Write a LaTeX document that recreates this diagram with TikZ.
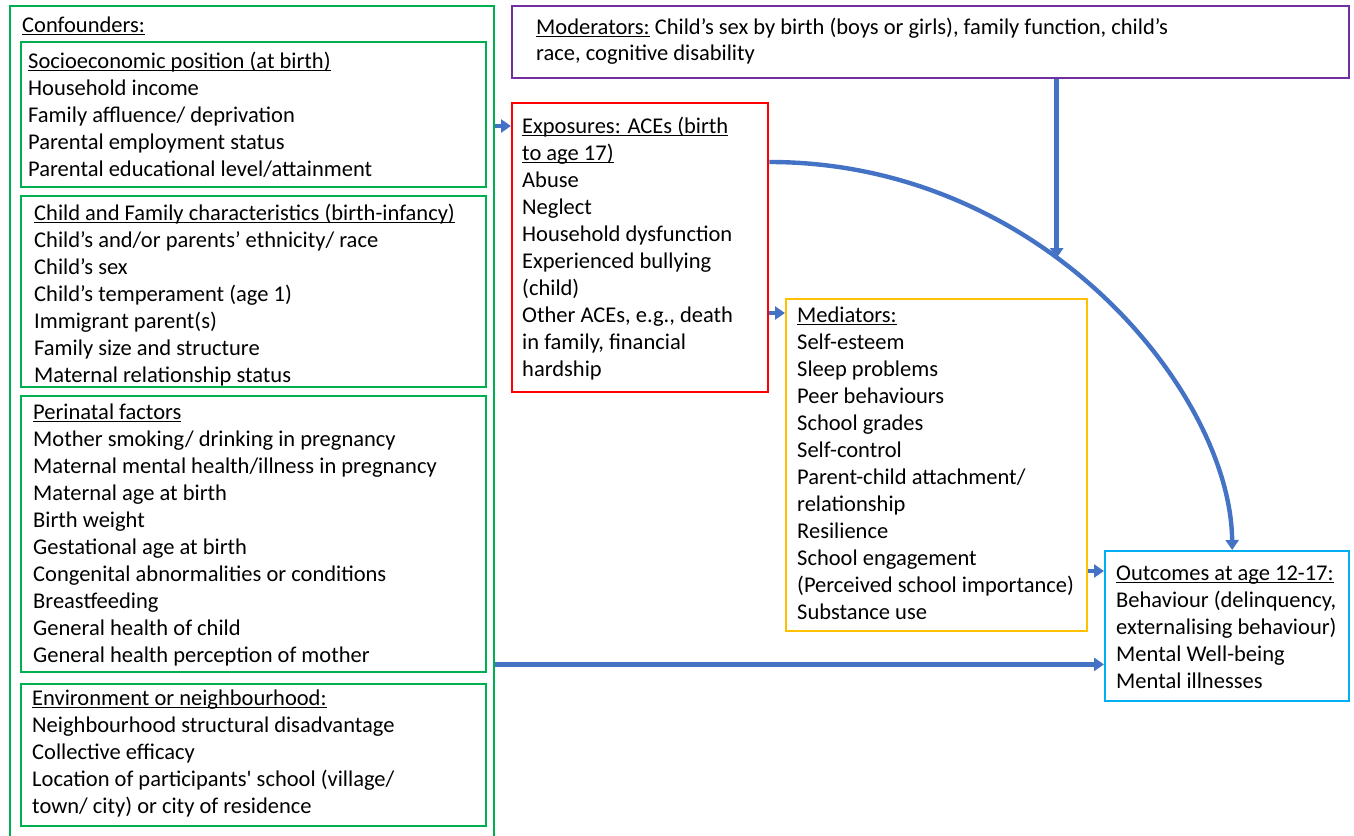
\documentclass[tikz,border=0pt]{standalone}
\usepackage{fontspec}
\setmainfont{Carlito}
\usetikzlibrary{arrows.meta}
\definecolor{cgreen}{HTML}{00B050}
\definecolor{cred}{HTML}{FF0000}
\definecolor{cpurple}{HTML}{7030A0}
\definecolor{cyellow}{HTML}{FFC000}
\definecolor{ccyan}{HTML}{00B0F0}
\definecolor{cblue}{HTML}{4472C4}
\newcommand\undl[1]{\setbox0\hbox{#1}\rlap{\rule[-2.8pt]{\wd0}{1.4pt}}\box0\relax}
\tikzset{
  box/.style={draw=#1, line width=2.4pt, inner sep=0pt, anchor=north west},
  txt/.style={anchor=north west, inner sep=0pt, align=left,
    font=\fontsize{22.5}{27}\selectfont, yshift=18.9pt},
  arr/.style={draw=cblue, line width=4.4pt, -{Triangle[length=10pt,width=13pt]}}
}
\begin{document}
\begin{tikzpicture}[x=1pt,y=-1pt]
\useasboundingbox (0,0) rectangle (1354,835);
\clip (0,0) rectangle (1354,835);
% boxes
\node[box=cgreen, minimum width=484pt, minimum height=850pt] (conf) at (9,5) {};
\node[box=cgreen, minimum width=465pt, minimum height=145pt] (ses) at (20,41) {};
\node[box=cgreen, minimum width=465pt, minimum height=191pt] (cfc) at (20,195) {};
\node[box=cgreen, minimum width=465pt, minimum height=276pt] (peri) at (20,395) {};
\node[box=cgreen, minimum width=465pt, minimum height=142pt] (env) at (20,683) {};
\node[box=cpurple, minimum width=837pt, minimum height=72pt] (mod) at (511,5) {};
\node[box=cred, minimum width=256pt, minimum height=289pt] (exp) at (511,102) {};
\node[box=cyellow, minimum width=301pt, minimum height=332pt] (med) at (785,298) {};
\node[box=ccyan, minimum width=244pt, minimum height=150pt] (out) at (1104,550) {};
% texts
\node[txt] (tconf) at (22,32) {\strut\undl{Confounders:}};
\node[txt] (tses) at (28,68) {\strut\undl{Socioeconomic position (at birth)}\\
Household income\\ Family affluence/ deprivation\\ Parental employment status\\
Parental educational level/attainment};
\node[txt] (tcfc) at (34,220) {\strut\undl{Child and Family characteristics (birth-infancy)}\\
Child’s and/or parents’ ethnicity/ race\\ Child’s sex\\ Child’s temperament (age 1)\\
Immigrant parent(s)\\ Family size and structure\\ Maternal relationship status};
\node[txt] (tperi) at (33,419) {\strut\undl{Perinatal factors}\\
Mother smoking/ drinking in pregnancy\\ Maternal mental health/illness in pregnancy\\
Maternal age at birth\\ Birth weight\\ Gestational age at birth\\
Congenital abnormalities or conditions\\ Breastfeeding\\ General health of child\\
General health perception of mother};
\node[txt] (tenv) at (32,705) {\strut\undl{Environment or neighbourhood:}\\
Neighbourhood structural disadvantage\\ Collective efficacy\\
Location of participants\textquotesingle{} school (village/\\ town/ city) or city of residence};
\node[txt, font=\fontsize{22.5}{26}\selectfont] (tmod) at (536,35) {\strut\undl{Moderators:} Child’s sex by birth (boys or girls), family function, child’s\\
race, cognitive disability};
\node[txt] (texp) at (522,133) {\strut\undl{Exposures: ACEs (birth}\\ \undl{to age 17)}\\
Abuse\\ Neglect\\ Household dysfunction\\ Experienced bullying\\ (child)\\
Other ACEs, e.g., death\\ in family, financial\\ hardship};
\node[txt] (tmed) at (797,322) {\strut\undl{Mediators:}\\ Self-esteem\\ Sleep problems\\
Peer behaviours\\ School grades\\ Self-control\\ Parent-child attachment/\\
relationship\\ Resilience\\ School engagement\\ (Perceived school importance)\\ Substance use};
\node[txt] (tout) at (1116,580) {\strut\undl{Outcomes at age 12-17:}\\
Behaviour (delinquency,\\ externalising behaviour)\\ Mental Well-being\\ Mental illnesses};
% connectors
\coordinate (e1) at ([yshift=-24pt]exp.north west);
\draw[arr] (conf.east |- e1) -- (e1);
\coordinate (m1) at ([yshift=-15pt]med.north west);
\draw[arr] (exp.east |- m1) -- (m1);
\coordinate (o1) at ([yshift=-21pt]out.north west);
\draw[arr] (med.east |- o1) -- (o1);
\coordinate (o2) at ([yshift=38pt]out.south west);
\draw[arr] (conf.east |- o2) -- (o2);
\coordinate (c0) at ([yshift=-60pt]exp.north east);
\coordinate (c3) at ([xshift=5pt]out.north);
\draw[arr] (c0) .. controls (1045,162) and (1231,395) .. coordinate[pos=0.41] (hit) (c3);
\draw[arr] (mod.south -| hit) -- (hit);
\end{tikzpicture}
\end{document}
